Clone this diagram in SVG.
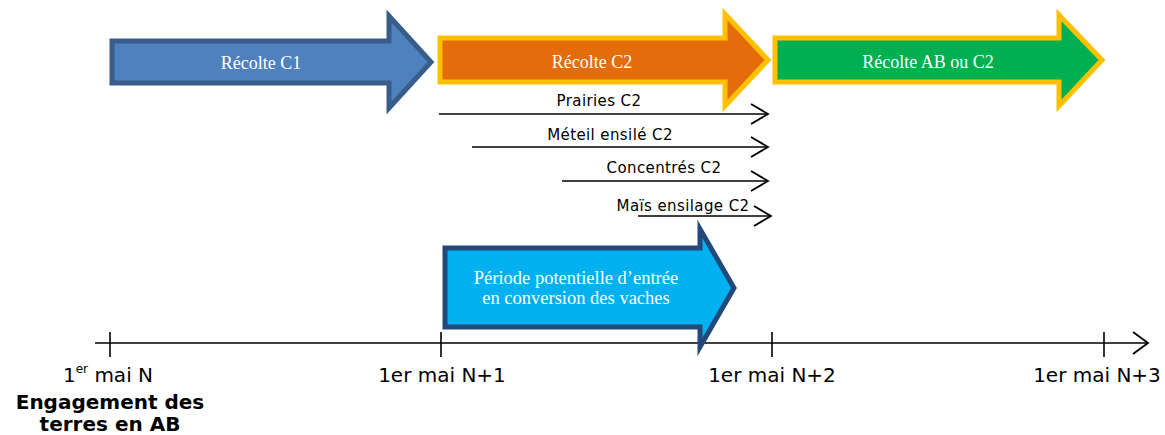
<svg xmlns="http://www.w3.org/2000/svg" width="1165" height="435" viewBox="0 0 1165 435">
<defs>
<style>
.big{font-family:"Liberation Serif","Times New Roman",serif;font-size:18px;fill:#ffffff;text-anchor:middle}
.lbl{font-family:"DejaVu Sans",Verdana,sans-serif;font-size:15px;fill:#000;text-anchor:middle;letter-spacing:0.4px}
.ax{font-family:"DejaVu Sans",Verdana,sans-serif;font-size:20px;fill:#000;text-anchor:middle}
.axb{font-family:"DejaVu Sans",Verdana,sans-serif;font-size:20px;font-weight:bold;fill:#000;text-anchor:middle}
.ln{stroke:#000;stroke-width:1.6;fill:none}
.hd{stroke:#000;stroke-width:1.8;fill:none;stroke-linejoin:miter}
</style>
</defs>
<rect width="1165" height="435" fill="#ffffff"/>
<g id="connectors">
<line class="ln" x1="439" y1="114" x2="767" y2="114"/>
<polyline class="hd" points="751,104 768,114 751,124"/>
<line class="ln" x1="472" y1="147" x2="767" y2="147"/>
<polyline class="hd" points="751,137 768,147 751,157"/>
<line class="ln" x1="562" y1="181" x2="767" y2="181"/>
<polyline class="hd" points="751,171 768,181 751,191"/>
<line class="ln" x1="638" y1="216" x2="770" y2="216"/>
<polyline class="hd" points="754,206 771,216 754,226"/>
<g id="axis">
<line class="ln" x1="95" y1="343" x2="1147" y2="343"/>
<polyline class="hd" points="1133,332 1148,343 1133,354"/>
<line class="ln" x1="110" y1="332" x2="110" y2="357"/>
<line class="ln" x1="441" y1="332" x2="441" y2="357"/>
<line class="ln" x1="772" y1="332" x2="772" y2="357"/>
<line class="ln" x1="1104" y1="332" x2="1104" y2="357"/>
</g>
</g>
<g id="recolte-c1">
<polygon points="112,41 389,41 389,16 431,62 389,108 389,83 112,83" fill="#4F81BD" stroke="#385D8A" stroke-width="5"/>
<text class="big" x="261" y="69">Récolte C1</text>
</g>
<g id="recolte-c2">
<polygon points="440,38 725,38 725,14 768,60 725,106 725,82 440,82" fill="#E46C0A" stroke="#FFC000" stroke-width="5"/>
<text class="big" x="592" y="68">Récolte C2</text>
</g>
<g id="recolte-ab">
<polygon points="775,38 1059,38 1059,15 1102,60 1059,106 1059,82 775,82" fill="#00B050" stroke="#FFC000" stroke-width="5"/>
<text class="big" x="928" y="68">Récolte AB ou C2</text>
</g>
<g id="label-prairies"><text class="lbl" x="599" y="106">Prairies C2</text></g>
<g id="label-meteil"><text class="lbl" x="610" y="140">Méteil ensilé C2</text></g>
<g id="label-concentres"><text class="lbl" x="664" y="173">Concentrés C2</text></g>
<g id="label-mais"><text class="lbl" x="683" y="211">Maïs ensilage C2</text></g>
<g id="periode">
<polygon points="445,248 700,248 700,229 734,288 700,347 700,327 445,327" fill="#00B0F0" stroke="#23497A" stroke-width="5"/>
<text class="big" style="font-size:18.5px" x="576" y="284">Période potentielle d’entrée</text>
<text class="big" style="font-size:18.5px" x="576" y="304">en conversion des vaches</text>
</g>
<g id="tick-labels">
<text class="ax" x="108" y="382">1<tspan font-size="12" dy="-9">er</tspan><tspan dy="9"> mai N</tspan></text>
<text class="axb" x="110" y="409">Engagement des</text>
<text class="axb" x="110" y="431">terres en AB</text>
<text class="ax" x="442" y="382">1er mai N+1</text>
<text class="ax" x="772" y="382">1er mai N+2</text>
<text class="ax" x="1097" y="382">1er mai N+3</text>
</g>
</svg>
